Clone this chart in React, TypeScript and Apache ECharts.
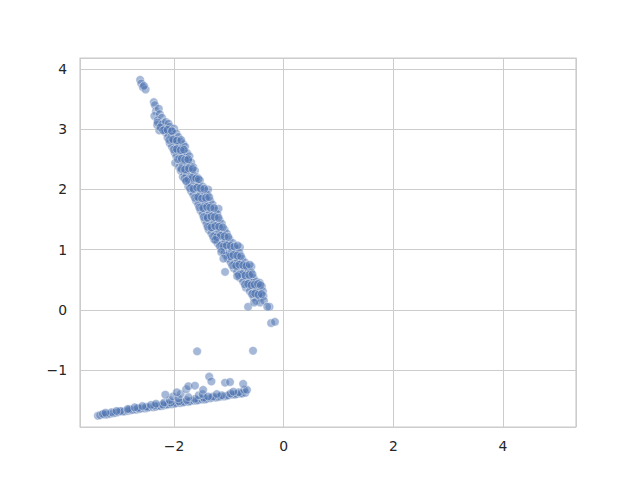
import React, { useEffect, useRef } from "react";
import * as echarts from "echarts";

// Upper (steep, descending) band: sparse top part, [x, y]
const upperTop: number[][] = [
  [-2.62, 3.82], [-2.60, 3.76], [-2.57, 3.70], [-2.52, 3.66], [-2.55, 3.72],
  [-2.37, 3.45], [-2.35, 3.40], [-2.33, 3.30], [-2.28, 3.34], [-2.36, 3.22],
  [-2.26, 3.25], [-2.30, 3.15], [-2.22, 3.19], [-2.31, 3.07], [-2.19, 3.10],
  [-2.24, 3.04], [-2.16, 3.00], [-2.27, 2.98],
];

// Upper band: dense body, [x, y]
const upperBody: number[][] = [
  [-2.30, 3.11], [-2.22, 3.08], [-2.15, 3.12], [-2.10, 3.09],
  [-2.25, 3.03], [-2.17, 3.00], [-2.08, 3.04], [-2.00, 3.01],
  [-2.16, 2.95], [-2.10, 2.92], [-2.03, 2.96], [-1.96, 2.93],
  [-2.12, 2.86], [-2.05, 2.88], [-1.99, 2.84], [-1.92, 2.87],
  [-2.08, 2.77], [-2.01, 2.80], [-1.95, 2.76], [-1.88, 2.79], [-1.83, 2.75],
  [-2.04, 2.71], [-1.98, 2.68], [-1.91, 2.72], [-1.85, 2.69], [-1.80, 2.71],
  [-1.99, 2.61], [-1.93, 2.64], [-1.87, 2.60], [-1.81, 2.63], [-1.76, 2.60],
  [-1.96, 2.55], [-1.90, 2.52], [-1.84, 2.56], [-1.78, 2.53], [-1.72, 2.55],
  [-1.98, 2.44], [-1.87, 2.47], [-1.81, 2.44], [-1.75, 2.48], [-1.69, 2.45],
  [-1.91, 2.37], [-1.84, 2.40], [-1.78, 2.36], [-1.71, 2.39], [-1.65, 2.37],
  [-1.88, 2.31], [-1.81, 2.28], [-1.74, 2.32], [-1.68, 2.29], [-1.62, 2.31],
  [-1.84, 2.21], [-1.77, 2.24], [-1.70, 2.20], [-1.64, 2.23], [-1.58, 2.20],
  [-1.78, 2.14], [-1.72, 2.12], [-1.66, 2.16], [-1.59, 2.13], [-1.53, 2.15],
  [-1.74, 2.05], [-1.68, 2.08], [-1.61, 2.04], [-1.55, 2.07], [-1.48, 2.05],
  [-1.69, 1.97], [-1.63, 2.00], [-1.56, 1.96], [-1.50, 1.99], [-1.43, 1.97], [-1.38, 2.00],
  [-1.65, 1.91], [-1.58, 1.88], [-1.52, 1.92], [-1.45, 1.89], [-1.39, 1.91],
  [-1.60, 1.81], [-1.54, 1.84], [-1.47, 1.80], [-1.41, 1.83], [-1.34, 1.81],
  [-1.56, 1.75], [-1.49, 1.72], [-1.43, 1.76], [-1.36, 1.73], [-1.30, 1.75],
  [-1.52, 1.65], [-1.45, 1.68], [-1.38, 1.64], [-1.32, 1.67], [-1.25, 1.65], [-1.19, 1.68],
  [-1.48, 1.59], [-1.41, 1.56], [-1.35, 1.60], [-1.28, 1.57], [-1.21, 1.59],
  [-1.44, 1.49], [-1.38, 1.52], [-1.31, 1.48], [-1.24, 1.51], [-1.17, 1.49],
  [-1.41, 1.43], [-1.34, 1.40], [-1.27, 1.44], [-1.20, 1.41], [-1.13, 1.43],
  [-1.37, 1.33], [-1.30, 1.36], [-1.23, 1.32], [-1.16, 1.35], [-1.08, 1.33],
  [-1.32, 1.27], [-1.25, 1.24], [-1.18, 1.28], [-1.11, 1.25], [-1.04, 1.27],
  [-1.27, 1.17], [-1.20, 1.20], [-1.13, 1.16], [-1.06, 1.19], [-0.99, 1.17],
  [-1.21, 1.11], [-1.14, 1.08], [-1.07, 1.12], [-1.00, 1.09], [-0.93, 1.11],
  [-1.14, 1.01], [-1.08, 1.04], [-1.01, 1.00], [-0.94, 1.03], [-0.87, 1.01], [-0.80, 1.04],
  [-1.08, 0.95], [-1.02, 0.92], [-0.95, 0.96], [-0.88, 0.93], [-0.81, 0.95],
  [-1.02, 0.85], [-0.96, 0.88], [-0.89, 0.84], [-0.82, 0.87], [-0.76, 0.85],
  [-0.97, 0.79], [-0.90, 0.76], [-0.84, 0.80], [-0.77, 0.77], [-0.71, 0.79],
  [-0.91, 0.69], [-0.85, 0.72], [-0.78, 0.68], [-0.72, 0.71], [-0.65, 0.69], [-0.59, 0.72],
  [-0.85, 0.63], [-0.79, 0.60], [-0.72, 0.64], [-0.66, 0.61], [-0.60, 0.63],
  [-0.80, 0.53], [-0.74, 0.56], [-0.68, 0.52], [-0.61, 0.55], [-0.55, 0.53],
  [-0.74, 0.47], [-0.68, 0.44], [-0.62, 0.48], [-0.56, 0.45], [-0.50, 0.47], [-0.44, 0.45],
  [-0.69, 0.37], [-0.63, 0.40], [-0.57, 0.36], [-0.51, 0.39], [-0.45, 0.37], [-0.40, 0.39],
  [-0.62, 0.31], [-0.56, 0.28], [-0.50, 0.32], [-0.44, 0.29], [-0.38, 0.31],
  [-0.55, 0.21], [-0.49, 0.24], [-0.43, 0.20], [-0.37, 0.23],
  [-0.50, 0.15], [-0.43, 0.12], [-0.36, 0.15],
];

// Upper band: further points filling the body between the rows above, [x, y]
const upperFill: number[][] = [
  [-2.20, 2.98], [-2.12, 2.99], [-2.04, 2.97],
  [-2.09, 2.82], [-2.02, 2.83], [-1.95, 2.81], [-1.87, 2.82],
  [-2.01, 2.66], [-1.95, 2.67], [-1.88, 2.65], [-1.82, 2.66],
  [-1.93, 2.50], [-1.86, 2.51], [-1.80, 2.49], [-1.74, 2.50],
  [-1.87, 2.34], [-1.80, 2.33], [-1.73, 2.35], [-1.66, 2.34],
  [-1.81, 2.18], [-1.74, 2.17], [-1.67, 2.19], [-1.60, 2.18], [-1.55, 2.17],
  [-1.71, 2.02], [-1.65, 2.01], [-1.58, 2.03], [-1.52, 2.02], [-1.45, 2.01],
  [-1.62, 1.86], [-1.56, 1.87], [-1.49, 1.85], [-1.42, 1.86], [-1.36, 1.87],
  [-1.54, 1.70], [-1.47, 1.69], [-1.40, 1.71], [-1.34, 1.70], [-1.27, 1.69],
  [-1.46, 1.54], [-1.39, 1.53], [-1.32, 1.55], [-1.26, 1.54], [-1.19, 1.53],
  [-1.39, 1.38], [-1.32, 1.37], [-1.25, 1.39], [-1.18, 1.38], [-1.11, 1.37],
  [-1.29, 1.22], [-1.22, 1.21], [-1.15, 1.23], [-1.08, 1.22], [-1.01, 1.21],
  [-1.17, 1.06], [-1.10, 1.05], [-1.04, 1.07], [-0.97, 1.06], [-0.90, 1.05], [-0.84, 1.07],
  [-1.05, 0.90], [-0.98, 0.89], [-0.92, 0.91], [-0.85, 0.90], [-0.78, 0.89],
  [-0.94, 0.74], [-0.87, 0.73], [-0.81, 0.75], [-0.74, 0.74], [-0.68, 0.73], [-0.62, 0.75],
  [-0.82, 0.58], [-0.76, 0.59], [-0.70, 0.57], [-0.63, 0.58], [-0.57, 0.59],
  [-0.71, 0.42], [-0.65, 0.43], [-0.59, 0.41], [-0.53, 0.42], [-0.47, 0.43], [-0.42, 0.41],
  [-0.58, 0.26], [-0.52, 0.27], [-0.46, 0.25], [-0.40, 0.26],
];

// Upper band: stragglers near the edges and the tail, [x, y]
const upperStray: number[][] = [
  [-1.78, 2.14], [-1.25, 1.16], [-1.14, 0.96], [-1.10, 0.85], [-1.07, 0.63],
  [-0.85, 0.56], [-0.65, 0.05], [-0.54, 0.12], [-0.26, 0.05], [-0.30, 0.05],
  [-0.23, -0.22], [-0.16, -0.20],
];

// Lower (shallow, ascending) band of points: [x, y]
const lowerBand: number[][] = [
  [-3.39, -1.76], [-3.35, -1.75], [-3.27, -1.74], [-3.23, -1.74], [-3.17, -1.73],
  [-3.11, -1.72], [-3.07, -1.71], [-3.02, -1.70], [-2.95, -1.69], [-2.91, -1.69],
  [-2.84, -1.68], [-2.79, -1.67], [-2.76, -1.66], [-2.69, -1.66], [-2.64, -1.65],
  [-2.61, -1.64], [-2.53, -1.64], [-2.49, -1.63], [-2.46, -1.62], [-2.38, -1.62],
  [-2.34, -1.61], [-2.29, -1.60], [-2.24, -1.60], [-2.19, -1.59], [-2.13, -1.58],
  [-2.11, -1.57], [-2.04, -1.57], [-1.99, -1.56], [-1.96, -1.55], [-1.89, -1.55],
  [-1.84, -1.54], [-1.81, -1.53], [-1.74, -1.53], [-1.71, -1.52], [-1.64, -1.51],
  [-1.59, -1.51], [-1.56, -1.50], [-1.49, -1.49], [-1.44, -1.49], [-1.41, -1.48],
  [-1.34, -1.47], [-1.31, -1.46], [-1.24, -1.46], [-1.19, -1.45], [-1.16, -1.44],
  [-1.09, -1.44], [-1.04, -1.43], [-1.01, -1.42], [-0.94, -1.41], [-0.89, -1.41],
  [-0.86, -1.40], [-0.79, -1.39], [-0.76, -1.39], [-0.70, -1.38],
  [-3.30, -1.73], [-3.14, -1.70], [-2.98, -1.68], [-2.82, -1.65], [-2.66, -1.63],
  [-2.51, -1.61], [-2.36, -1.59], [-2.21, -1.57], [-2.06, -1.54], [-1.91, -1.52],
  [-1.77, -1.50], [-1.62, -1.48], [-1.46, -1.46], [-1.29, -1.44], [-1.13, -1.42],
  [-0.97, -1.39], [-0.82, -1.37],
  [-3.25, -1.71], [-3.05, -1.68], [-2.85, -1.65], [-2.72, -1.62], [-2.58, -1.60],
  [-2.42, -1.58], [-2.33, -1.56], [-2.18, -1.54], [-2.08, -1.50], [-2.02, -1.44],
  [-1.92, -1.47], [-1.88, -1.40], [-1.74, -1.45], [-1.55, -1.42], [-1.48, -1.40],
  [-1.38, -1.44], [-1.22, -1.40], [-0.92, -1.36], [-0.72, -1.33], [-0.67, -1.33],
  [-2.16, -1.41], [-1.95, -1.37], [-1.78, -1.32], [-1.74, -1.27], [-1.62, -1.26],
  [-1.47, -1.33], [-1.36, -1.11], [-1.32, -1.19], [-1.07, -1.21], [-0.98, -1.20],
  [-0.74, -1.23],
];

// Isolated points between the two bands
const outliers: number[][] = [
  [-1.58, -0.69], [-0.56, -0.68],
];

const X_MIN = -3.717;
const X_MAX = 5.333;
const Y_MIN = -1.947;
const Y_MAX = 4.183;

const fmt = (v: number) => {
  if (Math.abs(v - Math.round(v)) > 1e-6) return "";
  const r = Math.round(v);
  return r < 0 ? "\u2212" + Math.abs(r) : String(r);
};

export default function App() {
  const ref = useRef<HTMLDivElement>(null);
  useEffect(() => {
    if (!ref.current) return;
    const chart = echarts.init(ref.current, undefined, { renderer: "svg" });
    const axisText = {
      color: "#262626",
      fontFamily: "DejaVu Sans",
      fontSize: 13.9,
    };
    const seriesStyle = {
      color: "#4c72b0",
      opacity: 0.5,
      borderColor: "#ffffff",
      borderWidth: 0.8,
    };
    chart.setOption({
      animation: false,
      backgroundColor: "#ffffff",
      grid: {
        left: 80,
        right: 64,
        top: 58,
        bottom: 53,
        show: true,
        borderColor: "#cccccc",
        borderWidth: 1.2,
        backgroundColor: "#ffffff",
      },
      xAxis: {
        type: "value",
        min: X_MIN,
        max: X_MAX,
        splitNumber: 5,
        axisLine: { show: false },
        axisTick: { show: false },
        axisLabel: {
          ...axisText,
          margin: 12,
          formatter: (v: number) => (Math.abs(v % 2) < 1e-6 ? fmt(v) : ""),
        },
        splitLine: { show: true, lineStyle: { color: "#cccccc", width: 1 } },
      },
      yAxis: {
        type: "value",
        min: Y_MIN,
        max: Y_MAX,
        splitNumber: 6,
        axisLine: { show: false },
        axisTick: { show: false },
        axisLabel: {
          ...axisText,
          margin: 13,
          formatter: (v: number) => fmt(v),
        },
        splitLine: { show: true, lineStyle: { color: "#cccccc", width: 1 } },
      },
      series: [
        {
          type: "scatter",
          data: [
            ...upperTop,
            ...upperBody,
            ...upperFill,
            ...upperStray,
            ...lowerBand,
            ...outliers,
          ],
          symbol: "circle",
          symbolSize: 8.5,
          itemStyle: seriesStyle,
        },
      ],
    });
    return () => chart.dispose();
  }, []);
  return (
    <div
      ref={ref}
      style={{ position: "fixed", left: 0, top: 0, width: 640, height: 480 }}
    />
  );
}
